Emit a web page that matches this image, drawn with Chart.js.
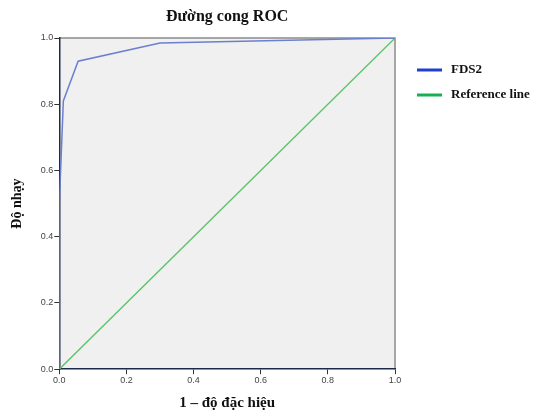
<!DOCTYPE html>
<html>
<head>
<meta charset="utf-8">
<script src="https://cdn.jsdelivr.net/npm/chart.js@4"></script>
<style>
  html, body { margin: 0; padding: 0; background: #fff; }
  #wrap { width: 540px; height: 412px; }
</style>
</head>
<body>
<div id="wrap"><canvas id="roc-canvas" width="540" height="412"></canvas></div>
<script>
// du lieu doc tu hinh
const curveFpr = [0, 0, 0.012, 0.056, 0.30, 1.0];
const curveTpr = [0, 0.5, 0.81, 0.93, 0.985, 1.0];
const refFpr = [0, 1];
const refTpr = [0, 1];
const seriesLabels = ['FDS2', 'Reference line'];
const legendColors = ['#1f3fcf', '#17b052'];
const tickValues = [0, 0.2, 0.4, 0.6, 0.8, 1.0];
const chartTitle = 'Đường cong ROC';

function toPoints(xs, ys) {
    return xs.map((x, i) => ({ x: x, y: ys[i] }));
}

// nen xam + vien tren/phai, tieu de va legend tu ve
const plotFrame = {
    id: 'plotFrame',
    beforeDraw(chart) {
        const a = chart.chartArea, ctx = chart.ctx;
        ctx.save();
        ctx.fillStyle = '#f0f0f0';
        ctx.fillRect(a.left, a.top, a.right - a.left, a.bottom - a.top);
        ctx.strokeStyle = '#8a8a8a';
        ctx.lineWidth = 1.5;
        ctx.beginPath();
        ctx.moveTo(a.left, a.top);
        ctx.lineTo(a.right, a.top);
        ctx.lineTo(a.right, a.bottom);
        ctx.stroke();
        ctx.restore();
    },
    afterDraw(chart) {
        const a = chart.chartArea, ctx = chart.ctx;
        ctx.save();
        ctx.font = 'bold 16px "Liberation Serif"';
        ctx.textAlign = 'center';
        ctx.textBaseline = 'middle';
        ctx.fillStyle = '#111';
        ctx.fillText(chartTitle, (a.left + a.right) / 2, 17);

        ctx.font = 'bold 13px "Liberation Serif"';
        ctx.textAlign = 'left';
        seriesLabels.forEach((lbl, i) => {
            const y = 70 + i * 25;
            ctx.fillStyle = legendColors[i];
            ctx.fillRect(a.right + 22, y - 1.5, 25, 3);
            ctx.fillStyle = '#111';
            ctx.fillText(lbl, a.right + 56, y);
        });
        ctx.restore();
    }
};

const axisFont = { family: '"Liberation Sans", Arial, sans-serif', size: 9 };

var ctx = document.getElementById('roc-canvas').getContext('2d');
var config = {
    type: 'scatter',
    data: {
        datasets: [{
            label: seriesLabels[0],
            data: toPoints(curveFpr, curveTpr),
            showLine: true,
            borderColor: '#6b7fcf',
            borderWidth: 1.5,
            pointRadius: 0,
            tension: 0
        }, {
            label: seriesLabels[1],
            data: toPoints(refFpr, refTpr),
            showLine: true,
            borderColor: '#5cc468',
            borderWidth: 1.3,
            pointRadius: 0
        }]
    },
    options: {
        responsive: false,
        animation: false,
        layout: { padding: { left: 9, right: 145, top: 38, bottom: 0 } },
        plugins: {
            legend: { display: false },
            tooltip: { enabled: false },
            title: { display: false }
        },
        scales: {
            x: {
                type: 'linear',
                min: 0,
                max: 1,
                afterBuildTicks: (axis) => { axis.ticks = tickValues.map(v => ({ value: v })); },
                ticks: { color: '#444', font: axisFont, padding: 1, maxRotation: 0, callback: v => v.toFixed(1) },
                grid: { drawOnChartArea: false, drawTicks: true, tickLength: 5, color: '#333' },
                border: { display: true, color: '#1e2a4a', width: 1.5 },
                title: {
                    display: true,
                    text: '1 – độ đặc hiệu',
                    color: '#111',
                    font: { family: '"Liberation Serif", serif', size: 15, weight: 'bold' },
                    padding: { top: 7, bottom: 0 }
                }
            },
            y: {
                type: 'linear',
                min: 0,
                max: 1,
                afterBuildTicks: (axis) => { axis.ticks = tickValues.map(v => ({ value: v })); },
                ticks: { color: '#444', font: axisFont, padding: 1, callback: v => v.toFixed(1) },
                grid: { drawOnChartArea: false, drawTicks: true, tickLength: 5, color: '#333' },
                border: { display: true, color: '#1e2a4a', width: 1.5 },
                title: {
                    display: true,
                    text: 'Độ nhạy',
                    color: '#111',
                    font: { family: '"Liberation Serif", serif', size: 14, weight: 'bold' },
                    padding: { top: 0, bottom: 14 }
                }
            }
        }
    },
    plugins: [plotFrame]
};
var rocChart = new Chart(ctx, config);
</script>
</body>
</html>
